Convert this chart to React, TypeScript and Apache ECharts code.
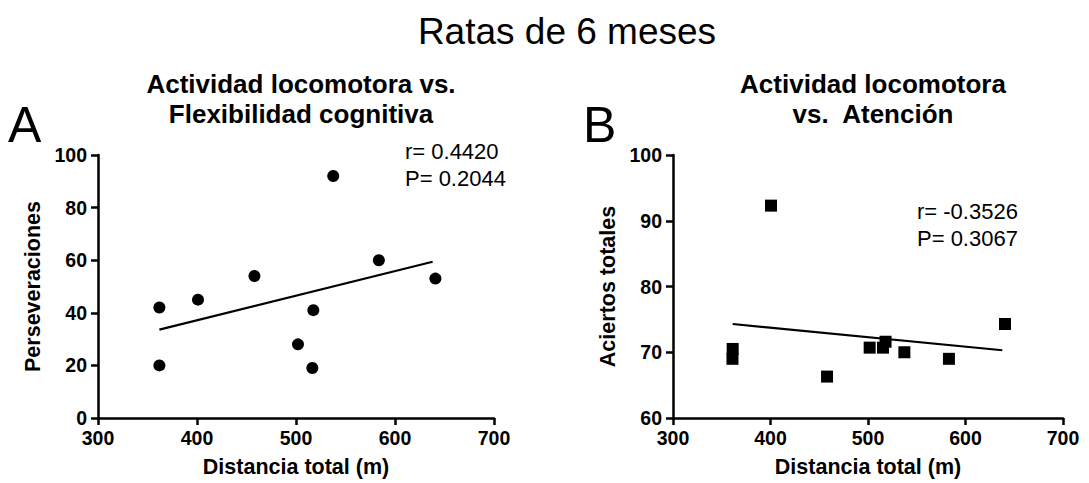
import React, { useEffect, useRef } from "react";
import * as echarts from "echarts";

const mainTitle = "Ratas de 6 meses";
const titleA = "Actividad locomotora vs.\nFlexibilidad cognitiva";
const titleB = "Actividad locomotora\nvs.  Atención";
const xName = "Distancia total (m)";
const yNameA = "Perseveraciones";
const yNameB = "Aciertos totales";

const distA = [362, 362, 401, 458, 502, 517.5, 516.5, 537.6, 583.7, 640.8];
const persev = [42, 20, 45, 54, 28, 41, 19, 92, 60, 53];
const fitA = [[362, 33.6], [638, 59.4]];
const statsA = ["r= 0.4420", "P= 0.2044"];

const distB = [361.2, 361, 400.5, 458, 501.7, 515.4, 518, 537.3, 583, 640.5];
const aciertos = [70.5, 69.0, 92.3, 66.3, 70.7, 70.7, 71.6, 70.0, 69.0, 74.3];
const fitB = [[361.2, 74.3], [637.8, 70.3]];
const statsB = ["r= -0.3526", "P= 0.3067"];

const FONT = "Liberation Sans, Arial, Helvetica, sans-serif";

function axisX(gridIndex: number) {
  return {
    type: "value",
    gridIndex,
    min: 300,
    max: 700,
    interval: 100,
    name: xName,
    nameLocation: "middle",
    nameGap: 38,
    nameTextStyle: { fontFamily: FONT, fontSize: 21.5, fontWeight: "bold", color: "#000" },
    axisLine: { show: true, onZero: false, lineStyle: { color: "#000", width: 2.5 } },
    axisTick: { show: true, inside: false, length: 7, lineStyle: { color: "#000", width: 2.5 } },
    axisLabel: { margin: 10, fontFamily: FONT, fontSize: 19.5, fontWeight: "bold", color: "#000" },
    splitLine: { show: false },
  };
}

function axisY(gridIndex: number, min: number, max: number, interval: number, name: string) {
  return {
    type: "value",
    gridIndex,
    min,
    max,
    interval,
    name,
    nameLocation: "middle",
    nameGap: 54,
    nameTextStyle: { fontFamily: FONT, fontSize: 21.5, fontWeight: "bold", color: "#000" },
    axisLine: { show: true, onZero: false, lineStyle: { color: "#000", width: 2.5 } },
    axisTick: { show: true, inside: false, length: 7, lineStyle: { color: "#000", width: 2.5 } },
    axisLabel: { margin: 11, fontFamily: FONT, fontSize: 19.5, fontWeight: "bold", color: "#000" },
    splitLine: { show: false },
  };
}

export default function App() {
  const ref = useRef<HTMLDivElement>(null);
  useEffect(() => {
    if (!ref.current) return;
    const chart = echarts.init(ref.current, undefined, { renderer: "svg" });
    const option = {
      animation: false,
      backgroundColor: "#fff",
      title: [
        {
          text: mainTitle,
          left: 562,
          top: 8,
          textAlign: "center",
          textStyle: { fontFamily: FONT, fontSize: 37, fontWeight: "normal", color: "#000" },
        },
        {
          text: titleA,
          left: 296,
          top: 64,
          textAlign: "center",
          textStyle: { fontFamily: FONT, fontSize: 26, fontWeight: "bold", color: "#000", lineHeight: 30 },
        },
        {
          text: titleB,
          left: 868,
          top: 64,
          textAlign: "center",
          textStyle: { fontFamily: FONT, fontSize: 26, fontWeight: "bold", color: "#000", lineHeight: 30 },
        },
      ],
      graphic: [
        { type: "text", left: 8, top: 100, style: { text: "A", fontFamily: FONT, fontSize: 50, fill: "#000" } },
        { type: "text", left: 583, top: 100, style: { text: "B", fontFamily: FONT, fontSize: 50, fill: "#000" } },
        {
          type: "text",
          left: 405,
          top: 138,
          style: { text: statsA.join("\n"), fontFamily: FONT, fontSize: 22, lineHeight: 27, fill: "#000" },
        },
        {
          type: "text",
          left: 917,
          top: 198,
          style: { text: statsB.join("\n"), fontFamily: FONT, fontSize: 22, lineHeight: 27, fill: "#000" },
        },
      ],
      grid: [
        { left: 98, right: 595, top: 155, bottom: 63 },
        { left: 673, right: 26, top: 155, bottom: 65 },
      ],
      xAxis: [axisX(0), axisX(1)],
      yAxis: [axisY(0, 0, 100, 20, yNameA), axisY(1, 60, 100, 10, yNameB)],
      series: [
        {
          type: "scatter",
          xAxisIndex: 0,
          yAxisIndex: 0,
          symbol: "circle",
          symbolSize: 12,
          itemStyle: { color: "#000", opacity: 1 },
          data: distA.map((x, i) => [x, persev[i]]),
        },
        {
          type: "line",
          xAxisIndex: 0,
          yAxisIndex: 0,
          showSymbol: false,
          symbol: "none",
          lineStyle: { color: "#000", width: 2.2 },
          data: fitA,
        },
        {
          type: "scatter",
          xAxisIndex: 1,
          yAxisIndex: 1,
          symbol: "rect",
          symbolSize: 12,
          itemStyle: { color: "#000", opacity: 1 },
          data: distB.map((x, i) => [x, aciertos[i]]),
        },
        {
          type: "line",
          xAxisIndex: 1,
          yAxisIndex: 1,
          showSymbol: false,
          symbol: "none",
          lineStyle: { color: "#000", width: 2.2 },
          data: fitB,
        },
      ],
    };
    chart.setOption(option as any);
    return () => chart.dispose();
  }, []);
  return (
    <div
      ref={ref}
      style={{ position: "fixed", left: 0, top: 0, width: 1089, height: 483, background: "#fff" }}
    />
  );
}
